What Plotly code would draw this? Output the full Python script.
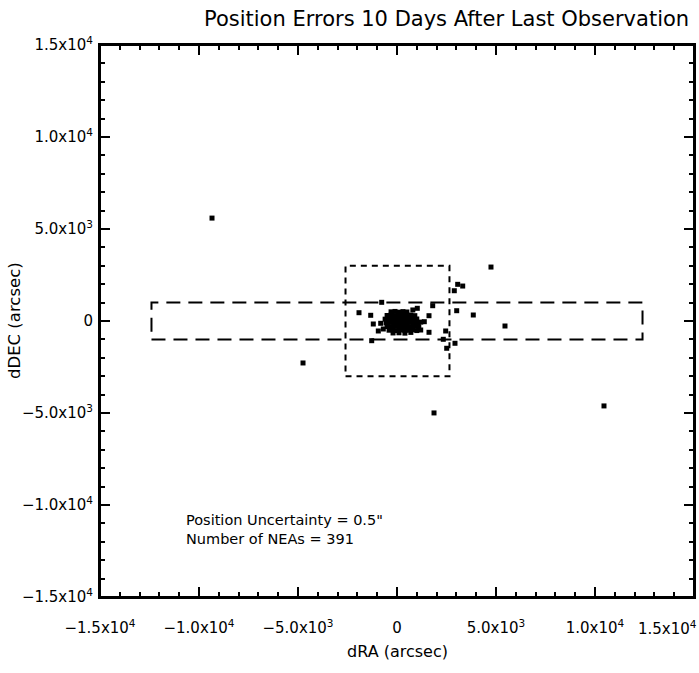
import plotly.graph_objects as go

# ---- data (arcsec) ----
blob_x = [-300, -100, 100, 300, 500,
          -500, -300, -100, 100, 300, 500, 700, 900,
          -600, -400, -200, 0, 200, 400, 600, 800, 1000,
          -550, -350, -150, 50, 250, 450, 650, 850, 1050, 1200,
          -500, -300, -100, 100, 300, 500, 700, 900, 1100,
          -400, -200, 0, 200, 400, 600, 800, 1000,
          -200, 100, 400, 700,
          800, 1025]
blob_y = [500, 520, 480, 510, 490,
          300, 320, 290, 310, 280, 300, 320, 290,
          100, 120, 90, 110, 80, 100, 120, 90, 110,
          -100, -80, -120, -90, -110, -100, -80, -120, -90, -60,
          -300, -320, -280, -310, -290, -300, -320, -280, -310,
          -500, -480, -520, -490, -510, -500, -480, -520,
          -650, -640, -660, -620,
          600, 690]

scatter_x = [-773, -1919, -1328, -1197, -823, -944, -1278, -692,
             1803, 1616, 1379, 1197, 1616, 2459, 2338, 2510, 2929,
             3065, 3318, 2894, 3015, 3853, 5454, 4747,
             -9343, -4747, 1869, 10454]
scatter_y = [1015, 451, 310, -163, -125, -543, -1070, -434,
             831, 288, -38, -489, -614, -543, -994, -1482, -1211,
             1993, 1900, 1645, 559, 326, -272, 2932,
             5593, -2281, -4996, -4616]

wide_box_x = [-12400, 12400]
wide_box_y = [-1000, 1000]
small_box_x = [-2600, 2650]
small_box_y = [-3000, 3000]

tick_vals = [-15000, -10000, -5000, 0, 5000, 10000, 15000]
tick_text = ["\u22121.5x10<sup>4</sup>", "\u22121.0x10<sup>4</sup>", "\u22125.0x10<sup>3</sup>",
             "0", "5.0x10<sup>3</sup>", "1.0x10<sup>4</sup>", "1.5x10<sup>4</sup>"]
# the last x label is pulled in so that it fits inside the picture
x_tick_text = tick_text[:-1] + [""]

FONT = "DejaVu Sans"

fig = go.Figure()
fig.add_trace(go.Scatter(x=blob_x + scatter_x, y=blob_y + scatter_y, mode="markers",
                         marker=dict(symbol="square", size=5, color="black", line=dict(width=0)),
                         showlegend=False, hoverinfo="skip"))

fig.add_shape(type="rect", xref="x", yref="y", x0=wide_box_x[0], x1=wide_box_x[1],
              y0=wide_box_y[0], y1=wide_box_y[1], line=dict(color="black", width=2, dash="14px,8px"))
fig.add_shape(type="rect", xref="x", yref="y", x0=small_box_x[0], x1=small_box_x[1],
              y0=small_box_y[0], y1=small_box_y[1], line=dict(color="black", width=2, dash="6px,5px"))
# plot frame
fig.add_shape(type="rect", xref="paper", yref="paper", x0=0, x1=1, y0=0, y1=1,
              line=dict(color="black", width=2), layer="above")

axis_common = dict(range=[-15000, 15000], tickvals=tick_vals,
                   ticks="inside", ticklen=10, tickwidth=1.5, tickcolor="black",
                   showline=True, linecolor="black", linewidth=2, mirror="allticks",
                   showgrid=False, zeroline=False, automargin=False,
                   minor=dict(dtick=1000, ticks="inside", ticklen=5, tickwidth=1.5, tickcolor="black", showgrid=False),
                   tickfont=dict(family=FONT, size=15, color="black"))

fig.update_xaxes(**axis_common, ticktext=x_tick_text, ticklabelstandoff=16, ticklabeloverflow="allow")
fig.update_yaxes(**axis_common, ticktext=tick_text, ticklabelstandoff=2, ticklabeloverflow="allow")

fig.add_annotation(text=tick_text[-1], xref="paper", yref="paper",
                   x=1.0, y=0, xshift=5, yshift=-19, xanchor="right", yanchor="top", showarrow=False,
                   font=dict(family=FONT, size=15, color="black"))
fig.add_annotation(text="Position Errors 10 Days After Last Observation", xref="paper", yref="paper",
                   x=0.584, y=1.0, yshift=26, xanchor="center", yanchor="middle", showarrow=False,
                   font=dict(family=FONT, size=21, color="black"))
fig.add_annotation(text="dRA (arcsec)", xref="paper", yref="paper",
                   x=0.5, y=0, yshift=-54, xanchor="center", yanchor="middle", showarrow=False,
                   font=dict(family=FONT, size=16, color="black"))
fig.add_annotation(text="dDEC (arcsec)", xref="paper", yref="paper", textangle=-90,
                   x=0, y=0.5, xshift=-86, xanchor="center", yanchor="middle", showarrow=False,
                   font=dict(family=FONT, size=16.5, color="black"))
fig.add_annotation(text="Position Uncertainty = 0.5\"<br>Number of NEAs = 391", xref="x", yref="y",
                   x=-10755, y=-10250, xanchor="left", yanchor="top", align="left", showarrow=False,
                   font=dict(family=FONT, size=14.5, color="black"))

fig.update_layout(width=699, height=673, margin=dict(l=100, r=5, t=45, b=76, autoexpand=False),
                  plot_bgcolor="white", paper_bgcolor="white",
                  font=dict(family=FONT, color="black"))

# remove the default 8px page margin so the 699x673 figure fills the window exactly
fig.write_html("out.html", config={"displayModeBar": False},
               post_script="document.body.style.margin='0';document.body.style.overflow='hidden';")
